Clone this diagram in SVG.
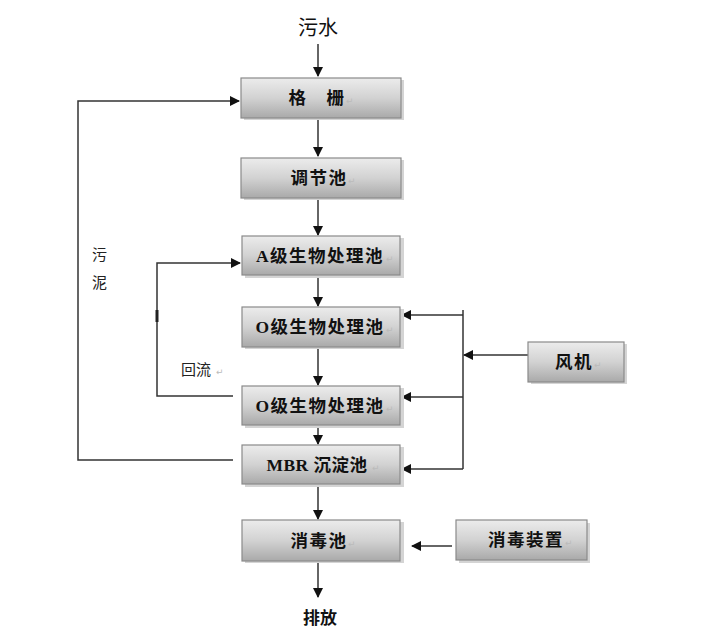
<svg xmlns="http://www.w3.org/2000/svg" width="719" height="641" viewBox="0 0 719 641">
<style>
.box{fill:url(#g);stroke:#8a8a8a;stroke-width:1.2}
.sh{fill:#d4d4d4}
.t{font-family:"Liberation Serif","Noto Sans CJK SC",serif;font-size:17.5px;fill:#111;text-anchor:middle;font-weight:bold;letter-spacing:1.5px}
.rm{font-family:"DejaVu Sans",sans-serif;font-size:9px;fill:#bbb}
.lbl{font-family:"Noto Sans CJK SC",sans-serif;font-size:15px;fill:#222}
.big{font-family:"Noto Sans CJK SC",sans-serif;font-size:20px;fill:#111;text-anchor:middle}
.ln{fill:none;stroke:#333;stroke-width:1.5}
</style>
<defs>
<linearGradient id="g" x1="0" y1="0" x2="0" y2="1">
<stop offset="0" stop-color="#ececec"/>
<stop offset="0.5" stop-color="#d2d2d2"/>
<stop offset="1" stop-color="#a9a9a9"/>
</linearGradient>
<marker id="ah" markerWidth="10" markerHeight="10" refX="9" refY="5" orient="auto" markerUnits="userSpaceOnUse">
<path d="M0,0 L10,5 L0,10 Z" fill="#111"/>
</marker>
</defs>
<rect width="719" height="641" fill="#fff"/>

<g id="connectors">
<path class="ln" d="M318,44 V76" marker-end="url(#ah)"/>
<path class="ln" d="M318,118 V156" marker-end="url(#ah)"/>
<path class="ln" d="M318,198 V235" marker-end="url(#ah)"/>
<path class="ln" d="M318,275 V306" marker-end="url(#ah)"/>
<path class="ln" d="M318,347 V385" marker-end="url(#ah)"/>
<path class="ln" d="M318,425 V444" marker-end="url(#ah)"/>
<path class="ln" d="M318,484 V519" marker-end="url(#ah)"/>
<path class="ln" d="M318,561 V597" marker-end="url(#ah)"/>
<path class="ln" d="M233,460 H78 V101 H239" marker-end="url(#ah)"/>
<path class="ln" d="M233,396 H157 V263 H240" marker-end="url(#ah)"/>
<path d="M157,310 V322" stroke="#222" stroke-width="3"/>
<path class="ln" d="M463,310 V469"/>
<path class="ln" d="M463,315 H402" marker-end="url(#ah)"/>
<path class="ln" d="M463,397 H402" marker-end="url(#ah)"/>
<path class="ln" d="M463,469 H402" marker-end="url(#ah)"/>
<path class="ln" d="M528,355 H464" marker-end="url(#ah)"/>
<path class="ln" d="M452,546 H412" marker-end="url(#ah)"/>
</g>

<g id="n-wushui"><text class="big" x="318" y="35">污水</text></g>

<g id="n-gezha">
<rect class="sh" x="244" y="80" width="160" height="40"/>
<rect class="box" x="241" y="78" width="160" height="40"/>
<text class="t" x="317" y="104">格　栅</text><text class="rm" x="346" y="104">↵</text>
</g>
<g id="n-tiaojie">
<rect class="sh" x="244" y="160" width="160" height="40"/>
<rect class="box" x="241" y="158" width="160" height="40"/>
<text class="t" x="319" y="184">调节池</text><text class="rm" x="348" y="184">↵</text>
</g>
<g id="n-a">
<rect class="sh" x="245" y="238" width="159" height="40"/>
<rect class="box" x="242" y="236" width="158" height="39"/>
<text class="t" x="320" y="262">A级生物处理池</text><text class="rm" x="386" y="262">↵</text>
</g>
<g id="n-o1">
<rect class="sh" x="245" y="309" width="159" height="40"/>
<rect class="box" x="242" y="307" width="158" height="40"/>
<text class="t" x="320" y="333">O级生物处理池</text><text class="rm" x="386" y="333">↵</text>
</g>
<g id="n-o2">
<rect class="sh" x="245" y="388" width="159" height="40"/>
<rect class="box" x="242" y="386" width="158" height="39"/>
<text class="t" x="320" y="412">O级生物处理池</text><text class="rm" x="386" y="412">↵</text>
</g>
<g id="n-mbr">
<rect class="sh" x="245" y="447" width="159" height="40"/>
<rect class="box" x="242" y="445" width="158" height="39"/>
<text class="t" x="317" y="471" style="letter-spacing:0.5px">MBR 沉淀池</text><text class="rm" x="372" y="471">↵</text>
</g>
<g id="n-xiaodu">
<rect class="sh" x="245" y="522" width="159" height="41"/>
<rect class="box" x="242" y="520" width="158" height="41"/>
<text class="t" x="319" y="547">消毒池</text><text class="rm" x="348" y="547">↵</text>
</g>
<g id="n-paifang"><text class="big" x="320" y="624" style="font-size:17px;font-weight:bold">排放</text></g>

<g id="n-fengji">
<rect class="sh" x="531" y="344" width="96" height="40"/>
<rect class="box" x="528" y="342" width="96" height="40"/>
<text class="t" x="574" y="368">风机</text><text class="rm" x="594" y="368">↵</text>
</g>
<g id="n-xiaoduzz">
<rect class="sh" x="459" y="523" width="131" height="40"/>
<rect class="box" x="456" y="520" width="131" height="40"/>
<text class="t" x="526" y="546">消毒装置</text><text class="rm" x="565" y="546">↵</text>
</g>

<g id="labels">
<text class="lbl" x="92" y="260">污</text>
<text class="lbl" x="92" y="288">泥</text>
<text class="lbl" x="181" y="375">回流</text><text class="rm" x="216" y="375">↵</text>
</g>
</svg>
